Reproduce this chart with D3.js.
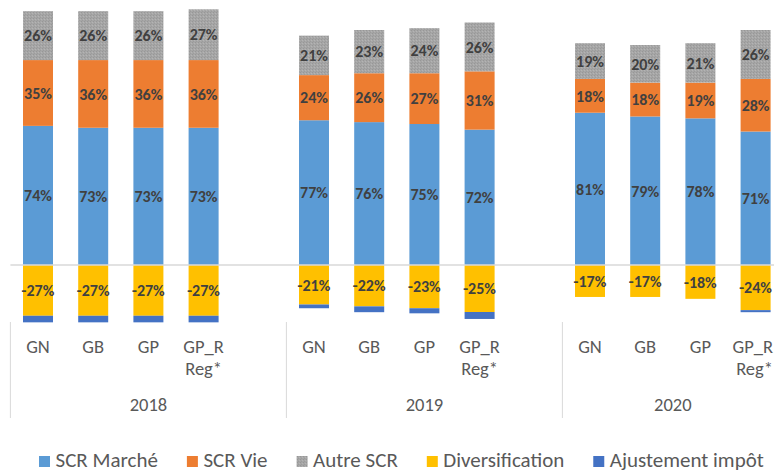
<!DOCTYPE html>
<html>
<head>
<meta charset="utf-8">
<script src="https://cdn.jsdelivr.net/npm/d3@7"></script>
<style>
  html, body { margin: 0; padding: 0; background: #ffffff; }
  svg { display: block; }
  .lbl { font-family: Carlito, Calibri, Lato, "Open Sans", sans-serif; }
</style>
</head>
<body>
<svg id="chart" width="774" height="472"></svg>
<script>
// Years and entities on the two-level category axis
const years = ["2018", "2019", "2020"];
const entities = ["GN", "GB", "GP", "GP_R Reg*"];

// Series values (%), one per bar, in year-then-entity order
const scrMarche       = [74, 73, 73, 73,  77, 76, 75, 72,  81, 79, 78, 71];
const scrVie          = [35, 36, 36, 36,  24, 26, 27, 31,  18, 18, 19, 28];
const autreScr        = [26, 26, 26, 27,  21, 23, 24, 26,  19, 20, 21, 26];
const diversification = [-27, -27, -27, -27,  -21, -22, -23, -25,  -17, -17, -18, -24];
const ajustementImpot = [-3.5, -3.5, -3.5, -3.5,  -2.0, -3.1, -2.7, -3.7,  0, 0, 0, -1.1];

const seriesNames = ["SCR Marché", "SCR Vie", "Autre SCR", "Diversification", "Ajustement impôt"];
const seriesColors = ["#5b9bd5", "#ed7d31", "#a5a5a5", "#ffc000", "#4472c4"];

const W = 774;
const svg = d3.select("#chart");

// Gray stippled fill used for "Autre SCR"
const defs = svg.append("defs");
const pat = defs.append("pattern")
  .attr("id", "stipple").attr("patternUnits", "userSpaceOnUse")
  .attr("width", 3).attr("height", 3);
pat.append("rect").attr("width", 3).attr("height", 3).attr("fill", "#a6a6a6");
pat.append("rect").attr("x", 0).attr("y", 0).attr("width", 1).attr("height", 1).attr("fill", "#979797");
pat.append("rect").attr("x", 2).attr("y", 1).attr("width", 1).attr("height", 1).attr("fill", "#b4b4b4");
pat.append("rect").attr("x", 1).attr("y", 2).attr("width", 1).attr("height", 1).attr("fill", "#9c9c9c");
const fills = seriesColors.map((c, i) => i === 2 ? "url(#stipple)" : c);

// Bar records
const bars = [];
years.forEach((yr, yi) => entities.forEach((en, ei) => {
  const i = yi * entities.length + ei;
  bars.push({ key: yr + "|" + en, year: yr, entity: en,
    values: [scrMarche[i], scrVie[i], autreScr[i], diversification[i], ajustementImpot[i]] });
}));

// Category slots: each year except the last keeps one empty slot after its bars
const slots = [];
years.forEach((yr, yi) => {
  entities.forEach(en => slots.push(yr + "|" + en));
  if (yi < years.length - 1) slots.push(yr + "|");
});

const plotLeft = 10.4, plotRight = 783.2;
const pad = 0.4565;
const x = d3.scaleBand().domain(slots).range([plotLeft, plotRight])
  .paddingInner(pad).paddingOuter(pad / 2);
const y = d3.scaleLinear().domain([-30, 140]).range([321.4, 1.8]);

// Stack segments: positives upward from 0, negatives downward from 0
const segs = [];
bars.forEach(b => {
  let pos = 0, neg = 0;
  b.values.forEach((v, si) => {
    let y0, y1;
    if (v >= 0) { y0 = pos; y1 = pos + v; pos = y1; }
    else { y0 = neg; y1 = neg + v; neg = y1; }
    segs.push({ bar: b, series: si, value: v, y0, y1 });
  });
});

svg.append("g").selectAll("rect").data(segs.filter(s => s.value !== 0)).join("rect")
  .attr("x", d => x(d.bar.key))
  .attr("width", x.bandwidth())
  .attr("y", d => y(Math.max(d.y0, d.y1)))
  .attr("height", d => Math.abs(y(d.y0) - y(d.y1)))
  .attr("fill", d => fills[d.series]);

// Zero line
svg.append("line")
  .attr("x1", plotLeft).attr("x2", W)
  .attr("y1", y(0)).attr("y2", y(0))
  .attr("stroke", "#d9d9d9").attr("stroke-width", 1.5);

// Data labels (all series except the tax adjustment)
svg.append("g").selectAll("text").data(segs.filter(s => s.series < 4)).join("text")
  .attr("class", "lbl")
  .attr("x", d => x(d.bar.key) + x.bandwidth() / 2)
  .attr("y", d => y((d.y0 + d.y1) / 2))
  .attr("dy", "0.36em")
  .attr("text-anchor", "middle")
  .attr("font-size", 16)
  .attr("font-weight", "bold")
  .attr("fill", "#404040")
  .text(d => Math.round(d.value) + "%");

// Entity labels (kept inside the drawing's right edge)
const catG = svg.append("g");
bars.forEach(b => {
  const cx = x(b.key) + x.bandwidth() / 2;
  const t = catG.append("text").attr("class", "lbl")
    .attr("text-anchor", "middle")
    .attr("font-size", 18.5)
    .attr("fill", "#595959");
  const spans = b.entity.split(" ").map((part, k) => t.append("tspan")
    .attr("x", cx)
    .attr("y", 347 + k * 21.5)
    .attr("dy", "0.35em")
    .text(part));
  spans.forEach(s => {
    const w = s.node().getComputedTextLength();
    if (cx + w / 2 > W - 1) s.attr("x", W - 1 - w / 2);
  });
});

// Year labels and group separators
const half = (x.step() - x.bandwidth()) / 2;
years.forEach((yr, yi) => {
  const start = x(yr + "|" + entities[0]) - half;
  const end = yi < years.length - 1
    ? x(years[yi + 1] + "|" + entities[0]) - half
    : x(yr + "|" + entities[entities.length - 1]) + x.bandwidth() + half;
  svg.append("line")
    .attr("x1", start).attr("x2", start)
    .attr("y1", 322).attr("y2", 418)
    .attr("stroke", "#d9d9d9").attr("stroke-width", 1);
  svg.append("text").attr("class", "lbl")
    .attr("x", (start + end) / 2).attr("y", 405).attr("dy", "0.35em")
    .attr("text-anchor", "middle")
    .attr("font-size", 18.5)
    .attr("fill", "#595959")
    .text(yr);
});

// Legend
const leg = svg.append("g");
let lx = 39;
seriesNames.forEach((name, i) => {
  leg.append("rect").attr("x", lx).attr("y", 456).attr("width", 11).attr("height", 11)
    .attr("fill", fills[i]);
  const t = leg.append("text").attr("class", "lbl")
    .attr("x", lx + 16.5).attr("y", 467)
    .attr("font-size", 21)
    .attr("fill", "#595959")
    .text(name);
  lx += 16.5 + t.node().getComputedTextLength() + 29;
});
</script>
</body>
</html>
